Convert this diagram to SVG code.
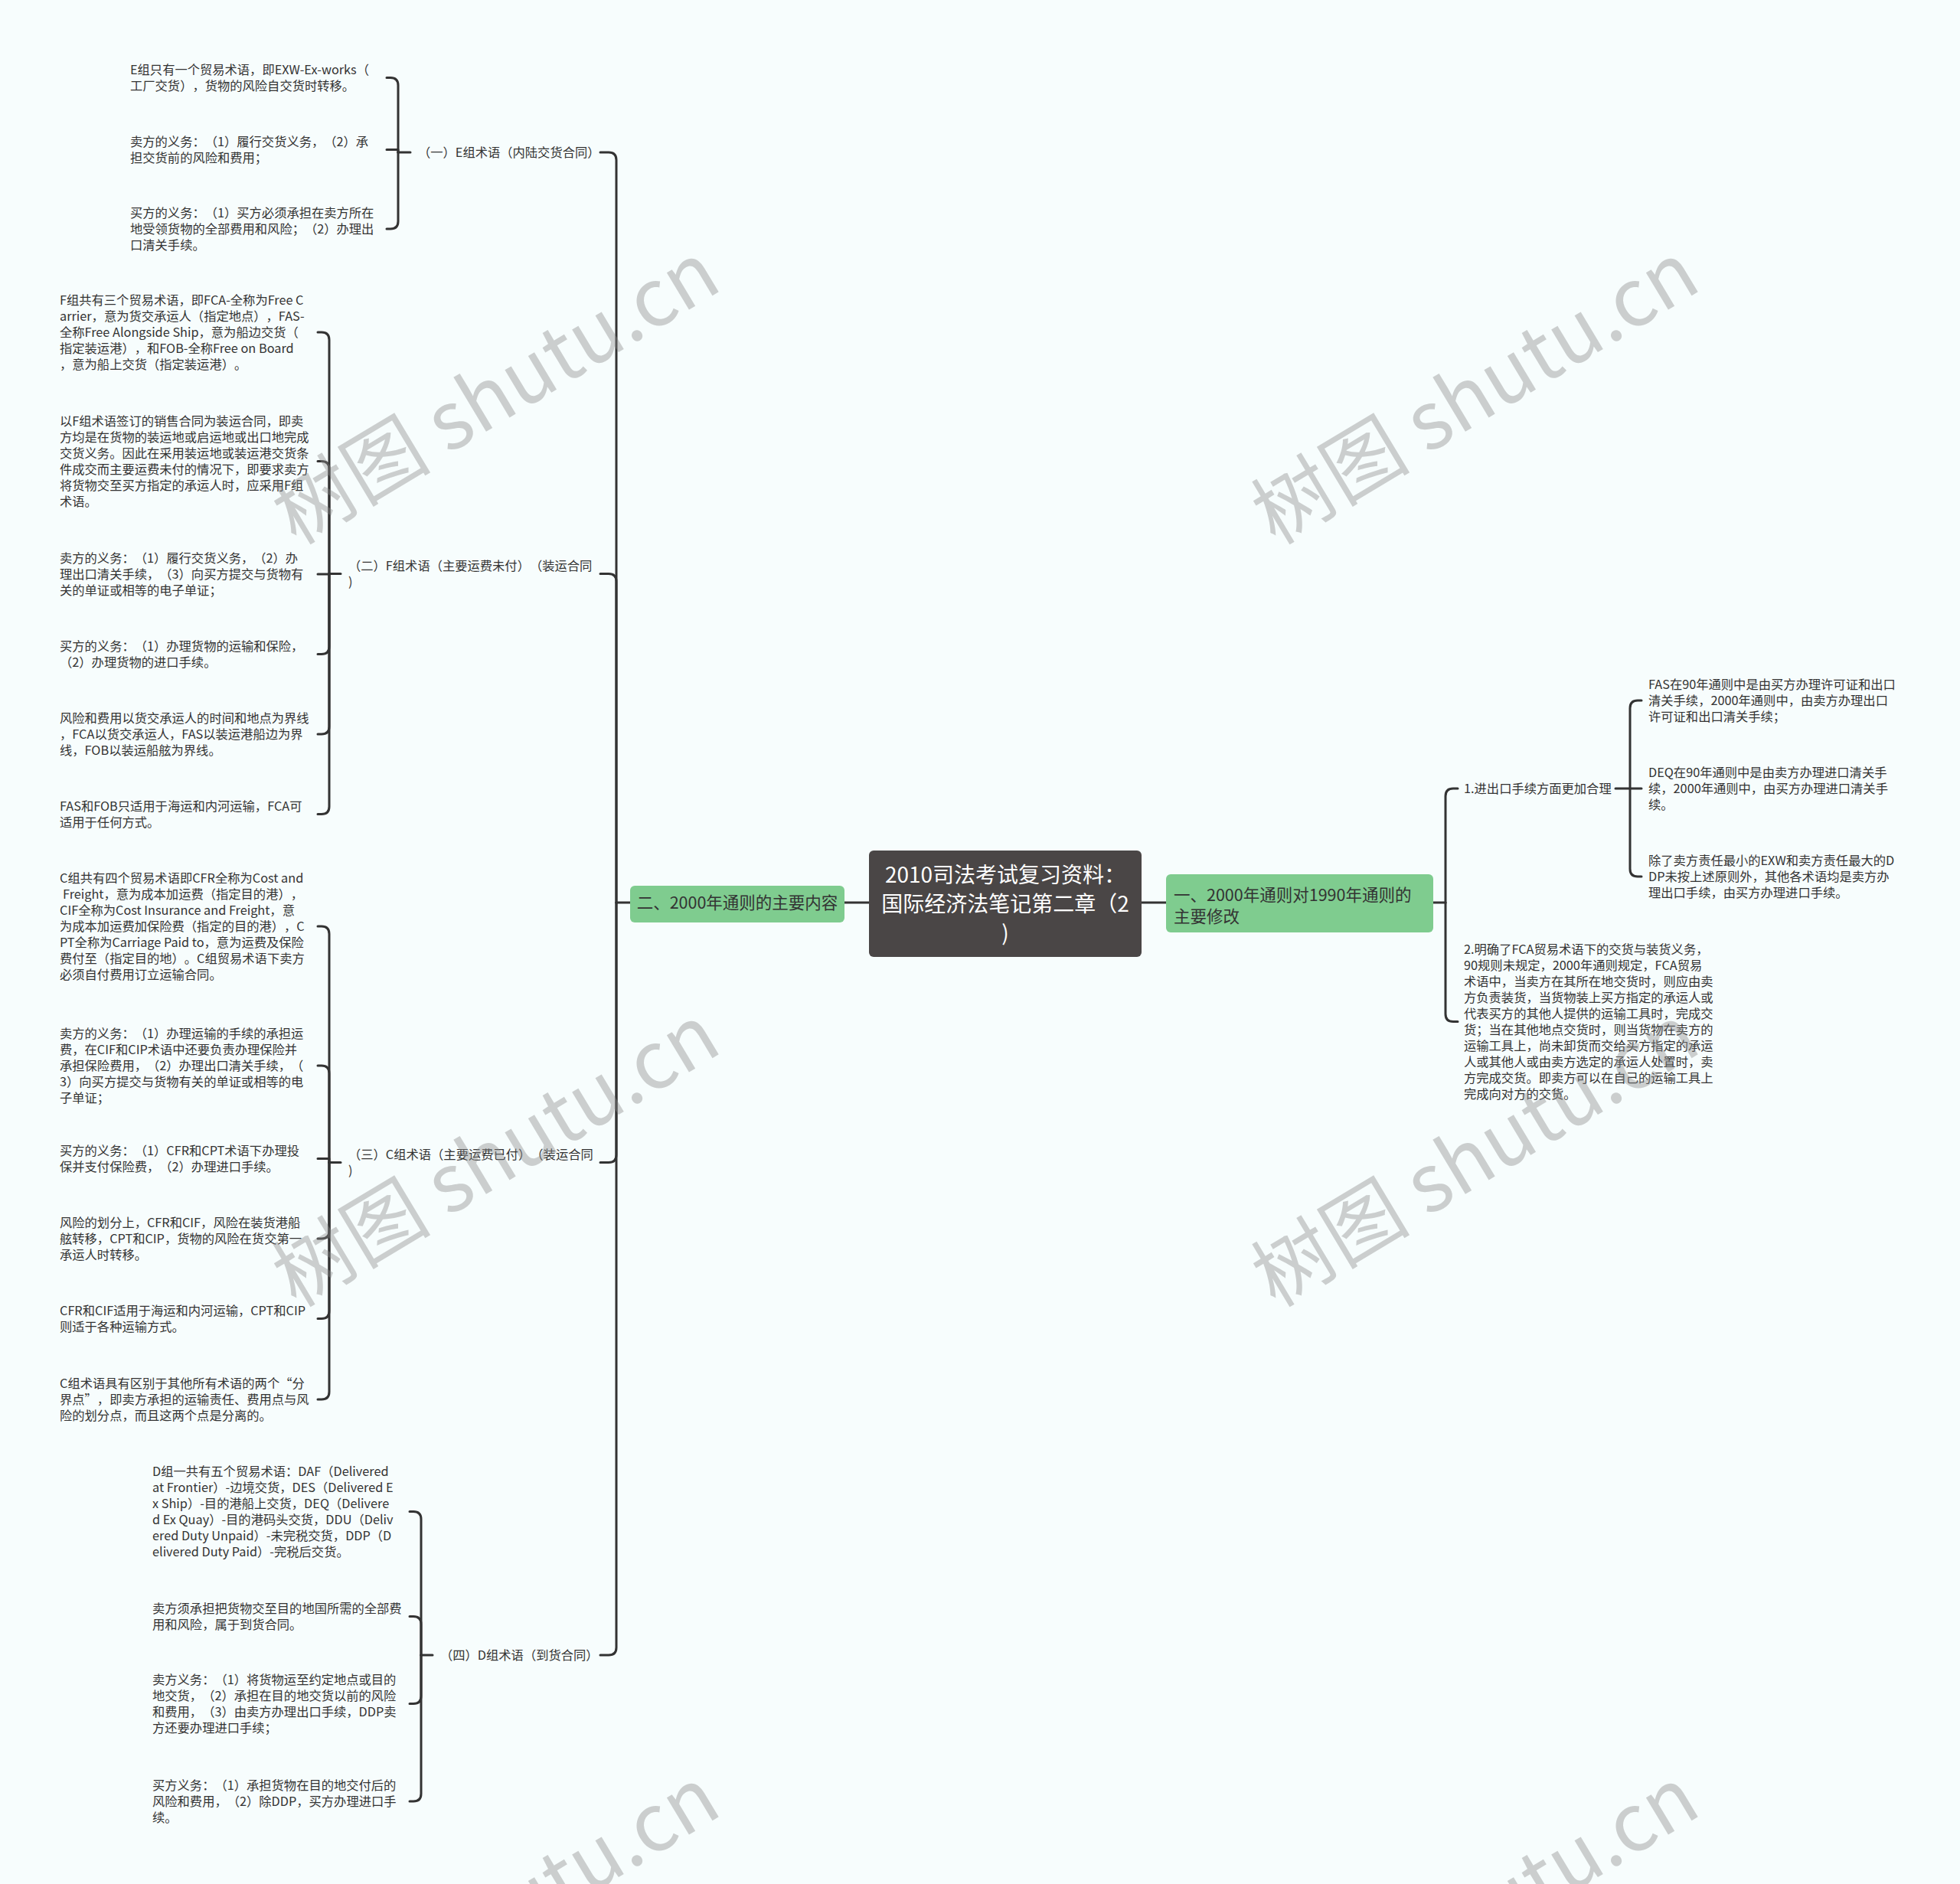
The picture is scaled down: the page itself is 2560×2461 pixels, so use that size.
<svg xmlns="http://www.w3.org/2000/svg" width="2560" height="2461" viewBox="0 0 2560 2461">
<style>
text{text-spacing-trim:space-all}
.t{font-family:"Noto Sans CJK SC","Noto Sans",sans-serif;font-size:16.3px;fill:#333}
.c{fill:none;stroke:#333;stroke-width:3;stroke-linecap:round;stroke-linejoin:round}
.g{fill:#7fcc8f}
.gt{font-family:"Noto Sans CJK SC","Noto Sans",sans-serif;font-size:21.5px;fill:#333}
.rt{font-family:"Noto Sans CJK SC","Noto Sans",sans-serif;font-size:28px;fill:#fff}
.wm{font-family:"Noto Sans CJK SC","Noto Sans",sans-serif;font-size:104px;fill:#8a8a8a;opacity:.4}
</style>
<rect width="2560" height="2461" fill="#f7fdfd"/>
<g id="connectors">
<path class="c" d="M805 1179 V209 Q805 199 795 199 H784"/>
<path class="c" d="M805 1179 V759.5 Q805 749.5 795 749.5 H784"/>
<path class="c" d="M805 1179 V1508.5 Q805 1518.5 795 1518.5 H784"/>
<path class="c" d="M805 1179 V2152 Q805 2162 795 2162 H784"/>
<path class="c" d="M805 1179 H823"/>
<path class="c" d="M1103 1179 H1135"/>
<path class="c" d="M1491 1179 H1523"/>
<path class="c" d="M1872 1179 H1888"/>
<path class="c" d="M1888 1179 V1040 Q1888 1030 1898 1030 H1904"/>
<path class="c" d="M1888 1179 V1324.5 Q1888 1334.5 1898 1334.5 H1904"/>
<path class="c" d="M2110 1030 H2129"/>
<path class="c" d="M2129 1030 V925 Q2129 915 2139 915 H2144"/>
<path class="c" d="M2129 1030 H2144"/>
<path class="c" d="M2129 1030 V1135 Q2129 1145 2139 1145 H2144"/>
<path class="c" d="M520 199 H536"/>
<path class="c" d="M520 199 V111.5 Q520 101.5 510 101.5 H505"/>
<path class="c" d="M520 199 V195.5 H505"/>
<path class="c" d="M520 199 V289 Q520 299 510 299 H505"/>
<path class="c" d="M430 749.5 H445"/>
<path class="c" d="M430 749.5 V444 Q430 434 420 434 H415"/>
<path class="c" d="M430 749.5 V612.5 Q430 602.5 420 602.5 H415"/>
<path class="c" d="M430 749.5 V750 H415"/>
<path class="c" d="M430 749.5 V844.5 Q430 854.5 420 854.5 H415"/>
<path class="c" d="M430 749.5 V949 Q430 959 420 959 H415"/>
<path class="c" d="M430 749.5 V1053.5 Q430 1063.5 420 1063.5 H415"/>
<path class="c" d="M430 1518.5 H445"/>
<path class="c" d="M430 1518.5 V1220 Q430 1210 420 1210 H415"/>
<path class="c" d="M430 1518.5 V1402 Q430 1392 420 1392 H415"/>
<path class="c" d="M430 1518.5 V1513.5 H415"/>
<path class="c" d="M430 1518.5 V1608 Q430 1618 420 1618 H415"/>
<path class="c" d="M430 1518.5 V1712.5 Q430 1722.5 420 1722.5 H415"/>
<path class="c" d="M430 1518.5 V1818 Q430 1828 420 1828 H415"/>
<path class="c" d="M550 2162 H565"/>
<path class="c" d="M550 2162 V1984.5 Q550 1974.5 540 1974.5 H535"/>
<path class="c" d="M550 2162 V2121.5 Q550 2111.5 540 2111.5 H535"/>
<path class="c" d="M550 2162 V2215.5 Q550 2225.5 540 2225.5 H535"/>
<path class="c" d="M550 2162 V2343 Q550 2353 540 2353 H535"/>
</g>
<g id="root">
<rect x="1135" y="1111" width="356" height="139" rx="6" fill="#4a4646"/>
<text class="rt" text-anchor="middle"><tspan x="1313" y="1153">2010司法考试复习资料：</tspan><tspan x="1313" y="1191">国际经济法笔记第二章（2</tspan><tspan x="1313" y="1229">)</tspan></text>
</g>
<g id="n-left">
<rect class="g" x="823" y="1157" width="280" height="48" rx="6"/>
<text class="gt" x="963" y="1187" text-anchor="middle">二、2000年通则的主要内容</text>
</g>
<g id="n-right">
<rect class="g" x="1523" y="1142" width="349" height="76" rx="6"/>
<text class="gt"><tspan x="1533" y="1177">一、2000年通则对1990年通则的</tspan><tspan x="1533" y="1205">主要修改</tspan></text>
</g>
<g id="n-e"><text class="t" x="546" y="205">（一）E组术语（内陆交货合同）</text></g>
<g id="n-e1"><text class="t"><tspan x="170" y="97">E组只有一个贸易术语，即EXW-Ex-works（</tspan><tspan x="170" dy="21">工厂交货），货物的风险自交货时转移。</tspan></text></g>
<g id="n-e2"><text class="t"><tspan x="170" y="191">卖方的义务：（1）履行交货义务，（2）承</tspan><tspan x="170" dy="21">担交货前的风险和费用；</tspan></text></g>
<g id="n-e3"><text class="t"><tspan x="170" y="284">买方的义务：（1）买方必须承担在卖方所在</tspan><tspan x="170" dy="21">地受领货物的全部费用和风险；（2）办理出</tspan><tspan x="170" dy="21">口清关手续。</tspan></text></g>
<g id="n-f"><text class="t"><tspan x="455" y="745">（二）F组术语（主要运费未付）（装运合同</tspan><tspan x="455" dy="21">)</tspan></text></g>
<g id="n-f1"><text class="t"><tspan x="78" y="398">F组共有三个贸易术语，即FCA-全称为Free C</tspan><tspan x="78" dy="21">arrier，意为货交承运人（指定地点），FAS-</tspan><tspan x="78" dy="21">全称Free Alongside Ship，意为船边交货（</tspan><tspan x="78" dy="21">指定装运港），和FOB-全称Free on Board</tspan><tspan x="78" dy="21">，意为船上交货（指定装运港）。</tspan></text></g>
<g id="n-f2"><text class="t"><tspan x="78" y="556">以F组术语签订的销售合同为装运合同，即卖</tspan><tspan x="78" dy="21">方均是在货物的装运地或启运地或出口地完成</tspan><tspan x="78" dy="21">交货义务。因此在采用装运地或装运港交货条</tspan><tspan x="78" dy="21">件成交而主要运费未付的情况下，即要求卖方</tspan><tspan x="78" dy="21">将货物交至买方指定的承运人时，应采用F组</tspan><tspan x="78" dy="21">术语。</tspan></text></g>
<g id="n-f3"><text class="t"><tspan x="78" y="735">卖方的义务：（1）履行交货义务，（2）办</tspan><tspan x="78" dy="21">理出口清关手续，（3）向买方提交与货物有</tspan><tspan x="78" dy="21">关的单证或相等的电子单证；</tspan></text></g>
<g id="n-f4"><text class="t"><tspan x="78" y="850">买方的义务：（1）办理货物的运输和保险，</tspan><tspan x="78" dy="21">（2）办理货物的进口手续。</tspan></text></g>
<g id="n-f5"><text class="t"><tspan x="78" y="944">风险和费用以货交承运人的时间和地点为界线</tspan><tspan x="78" dy="21">，FCA以货交承运人，FAS以装运港船边为界</tspan><tspan x="78" dy="21">线，FOB以装运船舷为界线。</tspan></text></g>
<g id="n-f6"><text class="t"><tspan x="78" y="1059">FAS和FOB只适用于海运和内河运输，FCA可</tspan><tspan x="78" dy="21">适用于任何方式。</tspan></text></g>
<g id="n-c"><text class="t"><tspan x="455" y="1514">（三）C组术语（主要运费已付）（装运合同</tspan><tspan x="455" dy="21">)</tspan></text></g>
<g id="n-c1"><text class="t"><tspan x="78" y="1153">C组共有四个贸易术语即CFR全称为Cost and</tspan><tspan x="82" dy="21">Freight，意为成本加运费（指定目的港），</tspan><tspan x="78" dy="21">CIF全称为Cost Insurance and Freight，意</tspan><tspan x="78" dy="21">为成本加运费加保险费（指定的目的港），C</tspan><tspan x="78" dy="21">PT全称为Carriage Paid to，意为运费及保险</tspan><tspan x="78" dy="21">费付至（指定目的地）。C组贸易术语下卖方</tspan><tspan x="78" dy="21">必须自付费用订立运输合同。</tspan></text></g>
<g id="n-c2"><text class="t"><tspan x="78" y="1356">卖方的义务：（1）办理运输的手续的承担运</tspan><tspan x="78" dy="21">费，在CIF和CIP术语中还要负责办理保险并</tspan><tspan x="78" dy="21">承担保险费用，（2）办理出口清关手续，（</tspan><tspan x="78" dy="21">3）向买方提交与货物有关的单证或相等的电</tspan><tspan x="78" dy="21">子单证；</tspan></text></g>
<g id="n-c3"><text class="t"><tspan x="78" y="1509">买方的义务：（1）CFR和CPT术语下办理投</tspan><tspan x="78" dy="21">保并支付保险费，（2）办理进口手续。</tspan></text></g>
<g id="n-c4"><text class="t"><tspan x="78" y="1603">风险的划分上，CFR和CIF，风险在装货港船</tspan><tspan x="78" dy="21">舷转移，CPT和CIP，货物的风险在货交第一</tspan><tspan x="78" dy="21">承运人时转移。</tspan></text></g>
<g id="n-c5"><text class="t"><tspan x="78" y="1718">CFR和CIF适用于海运和内河运输，CPT和CIP</tspan><tspan x="78" dy="21">则适于各种运输方式。</tspan></text></g>
<g id="n-c6"><text class="t"><tspan x="78" y="1813">C组术语具有区别于其他所有术语的两个“分</tspan><tspan x="78" dy="21">界点”，即卖方承担的运输责任、费用点与风</tspan><tspan x="78" dy="21">险的划分点，而且这两个点是分离的。</tspan></text></g>
<g id="n-d"><text class="t" x="575" y="2168">（四）D组术语（到货合同）</text></g>
<g id="n-d1"><text class="t"><tspan x="199" y="1928">D组一共有五个贸易术语：DAF（Delivered</tspan><tspan x="199" dy="21">at Frontier）-边境交货，DES（Delivered E</tspan><tspan x="199" dy="21">x Ship）-目的港船上交货，DEQ（Delivere</tspan><tspan x="199" dy="21">d Ex Quay）-目的港码头交货，DDU（Deliv</tspan><tspan x="199" dy="21">ered Duty Unpaid）-未完税交货，DDP（D</tspan><tspan x="199" dy="21">elivered Duty Paid）-完税后交货。</tspan></text></g>
<g id="n-d2"><text class="t"><tspan x="199" y="2107">卖方须承担把货物交至目的地国所需的全部费</tspan><tspan x="199" dy="21">用和风险，属于到货合同。</tspan></text></g>
<g id="n-d3"><text class="t"><tspan x="199" y="2200">卖方义务：（1）将货物运至约定地点或目的</tspan><tspan x="199" dy="21">地交货，（2）承担在目的地交货以前的风险</tspan><tspan x="199" dy="21">和费用，（3）由卖方办理出口手续，DDP卖</tspan><tspan x="199" dy="21">方还要办理进口手续；</tspan></text></g>
<g id="n-d4"><text class="t"><tspan x="199" y="2338">买方义务：（1）承担货物在目的地交付后的</tspan><tspan x="199" dy="21">风险和费用，（2）除DDP，买方办理进口手</tspan><tspan x="199" dy="21">续。</tspan></text></g>
<g id="n-r1"><text class="t" x="1912" y="1036">1.进出口手续方面更加合理</text></g>
<g id="n-r1a"><text class="t"><tspan x="2153" y="900">FAS在90年通则中是由买方办理许可证和出口</tspan><tspan x="2153" dy="21">清关手续，2000年通则中，由卖方办理出口</tspan><tspan x="2153" dy="21">许可证和出口清关手续；</tspan></text></g>
<g id="n-r1b"><text class="t"><tspan x="2153" y="1015">DEQ在90年通则中是由卖方办理进口清关手</tspan><tspan x="2153" dy="21">续，2000年通则中，由买方办理进口清关手</tspan><tspan x="2153" dy="21">续。</tspan></text></g>
<g id="n-r1c"><text class="t"><tspan x="2153" y="1130">除了卖方责任最小的EXW和卖方责任最大的D</tspan><tspan x="2153" dy="21">DP未按上述原则外，其他各术语均是卖方办</tspan><tspan x="2153" dy="21">理出口手续，由买方办理进口手续。</tspan></text></g>
<g id="n-r2"><text class="t"><tspan x="1912" y="1246">2.明确了FCA贸易术语下的交货与装货义务，</tspan><tspan x="1912" dy="21">90规则未规定，2000年通则规定，FCA贸易</tspan><tspan x="1912" dy="21">术语中，当卖方在其所在地交货时，则应由卖</tspan><tspan x="1912" dy="21">方负责装货，当货物装上买方指定的承运人或</tspan><tspan x="1912" dy="21">代表买方的其他人提供的运输工具时，完成交</tspan><tspan x="1912" dy="21">货；当在其他地点交货时，则当货物在卖方的</tspan><tspan x="1912" dy="21">运输工具上，尚未卸货而交给买方指定的承运</tspan><tspan x="1912" dy="21">人或其他人或由卖方选定的承运人处置时，卖</tspan><tspan x="1912" dy="21">方完成交货。即卖方可以在自己的运输工具上</tspan><tspan x="1912" dy="21">完成向对方的交货。</tspan></text></g>
<g id="watermark">
<text class="wm" x="648" y="550" text-anchor="middle" transform="rotate(-31 648 514)">树图 shutu.cn</text>
<text class="wm" x="1927" y="550" text-anchor="middle" transform="rotate(-31 1927 514)">树图 shutu.cn</text>
<text class="wm" x="648" y="1546" text-anchor="middle" transform="rotate(-31 648 1510)">树图 shutu.cn</text>
<text class="wm" x="1927" y="1546" text-anchor="middle" transform="rotate(-31 1927 1510)">树图 shutu.cn</text>
<text class="wm" x="648" y="2542" text-anchor="middle" transform="rotate(-31 648 2506)">树图 shutu.cn</text>
<text class="wm" x="1927" y="2542" text-anchor="middle" transform="rotate(-31 1927 2506)">树图 shutu.cn</text>
</g>
</svg>
